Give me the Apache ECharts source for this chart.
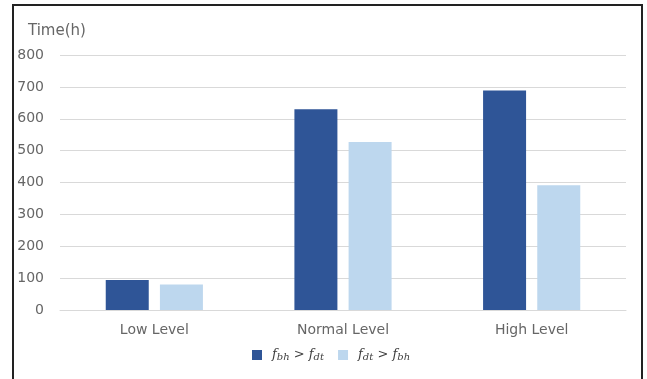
<!DOCTYPE html>
<html><head><meta charset="utf-8">
<script src="https://cdn.jsdelivr.net/npm/echarts@6/dist/echarts.min.js"></script>
<style>html,body{margin:0;padding:0;background:#fff}#c{width:647px;height:379px}</style>
</head><body><div id="c"></div>
<script>
const categories = ['Low Level', 'Normal Level', 'High Level'];
const seriesBhDt = [94, 630, 689];
const seriesDtBh = [80, 527, 391];
const yTicks = [0, 100, 200, 300, 400, 500, 600, 700, 800];

const chart = echarts.init(document.getElementById('c'));
const font = '"DejaVu Sans", sans-serif';
const txt = '#666666';
const rich = {
  f: {fontFamily: '"DejaVu Serif", serif', fontStyle: 'italic', fontSize: 13, color: '#404040'},
  s: {fontFamily: '"DejaVu Serif", serif', fontStyle: 'italic', fontSize: 10, color: '#404040', padding: [4, 0, 0, 0]},
  o: {fontFamily: '"DejaVu Sans", sans-serif', fontSize: 13, color: '#404040'}
};
chart.setOption({
  animation: false,
  grid: {left: 60, right: 21, top: 55, bottom: 69},
  graphic: [{type: 'rect', shape: {x: 13, y: 5, width: 629, height: 400}, style: {fill: 'none', stroke: '#222', lineWidth: 2}, silent: true}],
  legend: {
    bottom: 12, left: 247, itemWidth: 10, itemHeight: 10, itemGap: 14,
    icon: 'rect',
    formatter: function (name) {
      return name === 'a' ? '{f|f}{s|bh}{o| > }{f|f}{s|dt}' : '{f|f}{s|dt}{o| > }{f|f}{s|bh}';
    },
    textStyle: {rich: rich, padding: [0, 0, 0, 5]}
  },
  xAxis: {
    type: 'category', data: categories,
    axisLine: {lineStyle: {color: '#d9d9d9'}}, axisTick: {show: false},
    axisLabel: {color: txt, fontFamily: font, fontSize: 14, margin: 13}
  },
  yAxis: {
    type: 'value', min: yTicks[0], max: yTicks[yTicks.length - 1], interval: 100,
    name: 'Time(h)', nameLocation: 'end', nameGap: 16,
    nameTextStyle: {color: txt, fontFamily: font, fontSize: 15, align: 'left', padding: [0, 0, 0, -32]},
    axisLine: {show: false}, axisTick: {show: false},
    axisLabel: {color: txt, fontFamily: font, fontSize: 14, margin: 16},
    splitLine: {lineStyle: {color: '#d9d9d9'}}
  },
  series: [
    {name: 'a', type: 'bar', data: seriesBhDt, barWidth: 43, barGap: '26%', itemStyle: {color: '#2F5597'}},
    {name: 'b', type: 'bar', data: seriesDtBh, barWidth: 43, itemStyle: {color: '#BDD7EE'}}
  ]
});
</script></body></html>
